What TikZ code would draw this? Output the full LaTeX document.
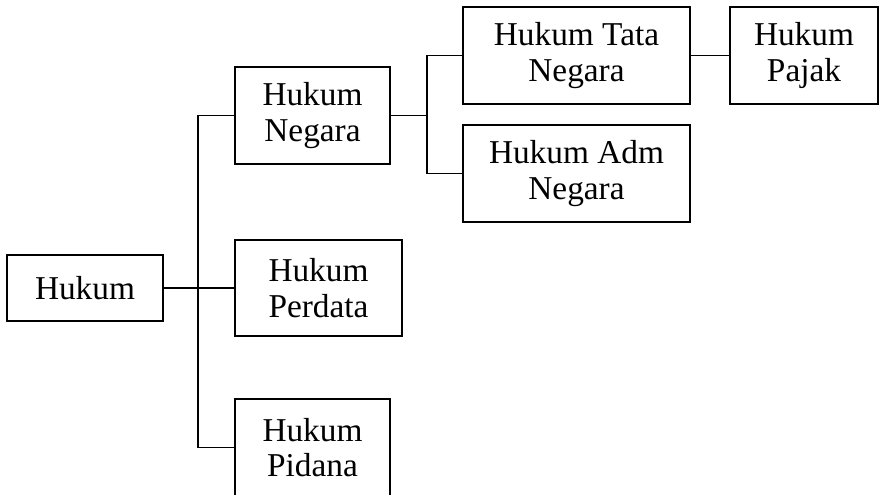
\documentclass[tikz,border=0pt]{standalone}
\usepackage{fontspec}
\setmainfont{Liberation Serif}
\usepackage{tikz}
\tikzset{>=latex}
\tikzset{lawbox/.style={draw, line width=1.2pt, align=center, inner sep=0pt,
    font=\fontsize{25}{26.5}\selectfont}}

\begin{document}
\begin{tikzpicture}[x=0.75pt, y=-0.75pt, line width=1.2pt]
            \clip (0,0) rectangle (885,495);
            \node[lawbox, minimum width=117pt, minimum height=49.5pt] (hukum) at (85,288) {Hukum};
            \node[lawbox, minimum width=116.25pt, minimum height=72.75pt] (negara) at (312.5,115.5) {Hukum\\Negara};
            \node[lawbox, minimum width=125.25pt, minimum height=72pt] (perdata) at (318.5,288) {Hukum\\Perdata};
            \node[lawbox, minimum width=116.25pt, minimum height=72.75pt] (pidana) at (312.5,447.5) {Hukum\\Pidana};
            \node[lawbox, minimum width=170.25pt, minimum height=72.75pt] (tata) at (576.5,55.5) {Hukum Tata\\Negara};
            \node[lawbox, minimum width=170.25pt, minimum height=72.75pt] (adm) at (576.5,173.5) {Hukum Adm\\Negara};
            \node[lawbox, minimum width=111pt, minimum height=72.75pt] (pajak) at (804,55.5) {Hukum\\Pajak};
            \draw (hukum.east) -- (perdata.west);
            \draw (negara.west) -- ++(-36,0) |- (pidana.west);
            \draw (negara.east) -- ++(36,0) coordinate (split);
            \draw (tata.west) -| (split) |- (adm.west);
            \draw (tata.east) -- (pajak.west);
        \end{tikzpicture}
\end{document}
